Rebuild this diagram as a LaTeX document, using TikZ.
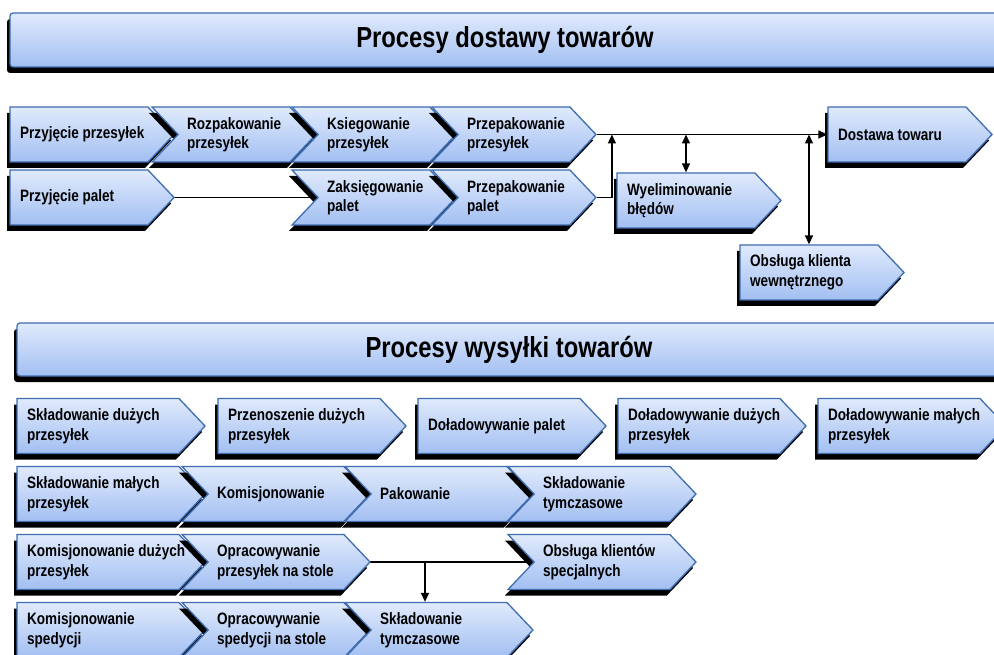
\documentclass[tikz,border=0pt]{standalone}
\usepackage{fontspec}
\newfontfamily\narrowsans{Liberation Sans}[FakeStretch=0.82]
\usepackage{tikz}
\usetikzlibrary{arrows.meta, shapes.symbols, shadows, backgrounds, positioning}

\definecolor{boxtop}{HTML}{E0EAFC}
\definecolor{boxbot}{HTML}{A2BFF2}
\definecolor{boxline}{HTML}{3F6DB0}

\begin{document}
\begin{tikzpicture}[x=1pt, y=-1pt,
    sig/.style    = {signal, signal pointer angle=93, minimum height=55,
                     draw=boxline, line width=1.3pt,
                     top color=boxtop, bottom color=boxbot,
                     drop shadow={shadow xshift=-3pt, shadow yshift=-6pt,
                                  fill=black, opacity=1}},
    txt/.style    = {anchor=west, align=left, inner sep=0pt,
                     font=\narrowsans\bfseries\fontsize{16.5}{19.5}\selectfont},
    pent/.style 2 args = {sig, signal to=east, minimum width=#1,
                     append after command={node[txt] at ([xshift={10-(#1-26)/2}]\tikzlastnode.center) {#2}}},
    chev/.style 2 args = {sig, signal to=east, signal from=west, minimum width=#1,
                     append after command={node[txt] at ([xshift={35-#1/2}]\tikzlastnode.center) {#2}}},
    bar/.style    = {draw=boxline, line width=1.3pt, rounded corners=3pt,
                     top color=boxtop, bottom color=boxbot, minimum height=54,
                     drop shadow={shadow xshift=-3pt, shadow yshift=-6pt,
                                  fill=black, opacity=1},
                     font=\narrowsans\bfseries\fontsize{29}{33}\selectfont},
    link/.style   = {line width=1.4pt},
    arr/.style    = {link, -{Triangle[length=9pt, width=8pt]}},
    dbl/.style    = {link, {Triangle[length=9pt, width=8pt]}-{Triangle[length=9pt, width=8pt]}},
  ]
  \useasboundingbox (0,0) rectangle (994,655);

  % titles
  \node[bar, minimum width=990] (tdost) at (505,40) {Procesy dostawy towarów};
  \node[bar, minimum width=984, minimum height=53] (twys) at (509,349.5) {Procesy wysyłki towarów};

  % dostawa
  \node[pent={164}{Przyjęcie przesyłek}] (pprz) at (79,134.5) {};
  \node[chev={164}{Rozpakowanie\\przesyłek}] (rozp) at (234,134.5) {};
  \node[chev={164}{Ksiegowanie\\przesyłek}] (ksie) at (374,134.5) {};
  \node[chev={164}{Przepakowanie\\przesyłek}] (ppak) at (514,134.5) {};
  \node[pent={164}{Dostawa towaru}] (dost) at (897,134.5) {};
  \node[pent={164}{Przyjęcie palet}] (ppal) at (79,197.5) {};
  \node[chev={164}{Zaksięgowanie\\palet}] (zaks) at (374,197.5) {};
  \node[chev={164}{Przepakowanie\\palet}] (prpa) at (514,197.5) {};
  \node[pent={164}{Wyeliminowanie\\błędów}] (wyel) at (686,200.5) {};
  \node[pent={164}{Obsługa klienta\\wewnętrznego}] (obkw) at (809,272.5) {};

  \draw[arr] (ppak.east) -- (dost.west);
  \draw[arr] (prpa.east) -| ([xshift=15pt]ppak.east);
  \draw[dbl] (wyel.north) -- (wyel.north |- ppak.east);
  \draw[dbl] (obkw.north) -- (obkw.north |- ppak.east);

  % wysylka
  \node[pent={188}{Składowanie dużych\\przesyłek}] (sdp) at (98,426) {};
  \node[pent={188}{Przenoszenie dużych\\przesyłek}] (pdp) at (299,426) {};
  \node[pent={188}{Doładowywanie palet}] (dpal) at (499,426) {};
  \node[pent={188}{Doładowywanie dużych\\przesyłek}] (ddp) at (699,426) {};
  \node[pent={188}{Doładowywanie małych\\przesyłek}] (dmp) at (899,426) {};

  \node[pent={188}{Składowanie małych\\przesyłek}] (smp) at (98,494) {};
  \node[chev={188}{Komisjonowanie}] (komi) at (276,494) {};
  \node[chev={188}{Pakowanie}] (pako) at (439,494) {};
  \node[chev={188}{Składowanie\\tymczasowe}] (stm1) at (602,494) {};

  \node[pent={188}{Komisjonowanie dużych\\przesyłek}] (kdp) at (98,562) {};
  \node[chev={188}{Opracowywanie\\przesyłek na stole}] (opns) at (276,562) {};
  \node[chev={188}{Obsługa klientów\\specjalnych}] (oksp) at (602,562) {};

  \node[pent={188}{Komisjonowanie\\spedycji}] (kspe) at (98,630) {};
  \node[chev={188}{Opracowywanie\\spedycji na stole}] (osns) at (276,630) {};
  \node[chev={188}{Składowanie\\tymczasowe}] (stm2) at (439,630) {};

  \coordinate (split) at (425,562);
  \draw[arr] (split) -- (split |- stm2.north);

  \begin{scope}[on background layer]
    \draw[link] (ppal.center) -- (zaks.center);
    \draw[link] (opns.center) -- (oksp.center);
  \end{scope}
\end{tikzpicture}
\end{document}
